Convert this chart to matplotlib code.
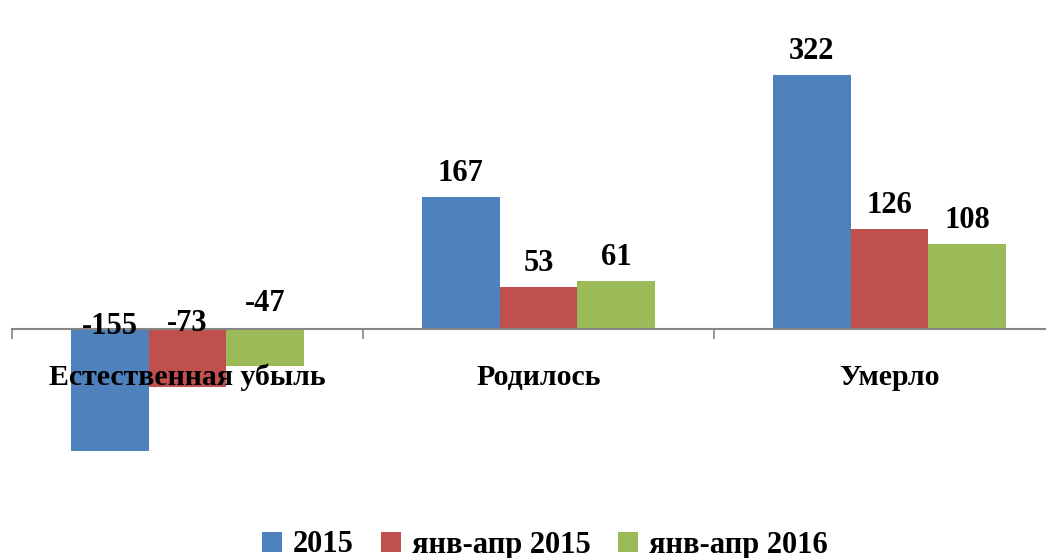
import matplotlib.pyplot as plt
import numpy as np

categories = ["Естественная убыль", "Родилось", "Умерло"]
series_names = ["2015", "янв-апр 2015", "янв-апр 2016"]
v_2015 = [-155, 167, 322]
v_jan_apr_2015 = [-73, 53, 126]
v_jan_apr_2016 = [-47, 61, 108]
colors = ["#4F81BD", "#C0504D", "#9BBB59"]

plt.rcParams['font.family'] = ['Liberation Serif', 'DejaVu Serif']
plt.rcParams['font.weight'] = 'bold'

fig = plt.figure(figsize=(10.46, 5.58), dpi=100)
# plot area in pixels: left 12, category width ~351
ax = fig.add_axes([12 / 1046, 1 - 471 / 558, 3 * 351 / 1046, 450 / 558])

x = np.arange(len(categories))
w = 0.222
values = [v_2015, v_jan_apr_2015, v_jan_apr_2016]
# small vertical nudges for the negative labels (points), as in the original
neg_offsets = [2, 4, 18]
for i, (vals, name, c) in enumerate(zip(values, series_names, colors)):
    xs = x + (i - 1) * w
    ax.bar(xs, vals, width=w, color=c, label=name, zorder=1)
    for xx, v in zip(xs, vals):
        if v >= 0:
            ax.annotate(f"{v}", (xx, v), xytext=(0, 17), textcoords="offset points",
                        ha='center', va='center', fontsize=22, fontweight='bold', zorder=5)
        else:
            ax.annotate(f"{v}", (xx, 0), xytext=(0, neg_offsets[i]), textcoords="offset points",
                        ha='center', va='center', fontsize=22, fontweight='bold', zorder=5)

ax.set_xlim(-0.5, 2.5)
ax.set_ylim(-180, 390)
for s in ['left', 'right', 'top']:
    ax.spines[s].set_visible(False)
ax.spines['bottom'].set_position(('data', 0))
ax.spines['bottom'].set_color('#868686')
ax.spines['bottom'].set_linewidth(1.5)
ax.set_yticks([])
ax.set_xticks(np.arange(-0.5, 3.0, 1.0))
ax.set_xticks(x, minor=True)
ax.set_xticklabels([])
ax.set_xticklabels(categories, minor=True)
ax.tick_params(axis='x', which='major', length=7, width=1.2, color='#868686', direction='out')
ax.tick_params(axis='x', which='minor', length=0, pad=25, labelsize=21.5)
for lbl in ax.get_xticklabels(minor=True):
    lbl.set_fontweight('bold')
    lbl.set_zorder(5)

fig.legend(loc='center', bbox_to_anchor=(545 / 1046, 1 - 545 / 558), ncol=3, frameon=False,
           handlelength=0.65, handleheight=0.65, handletextpad=0.35, columnspacing=0.9,
           prop={'weight': 'bold', 'size': 22})

fig.savefig("out.png", dpi=100)
